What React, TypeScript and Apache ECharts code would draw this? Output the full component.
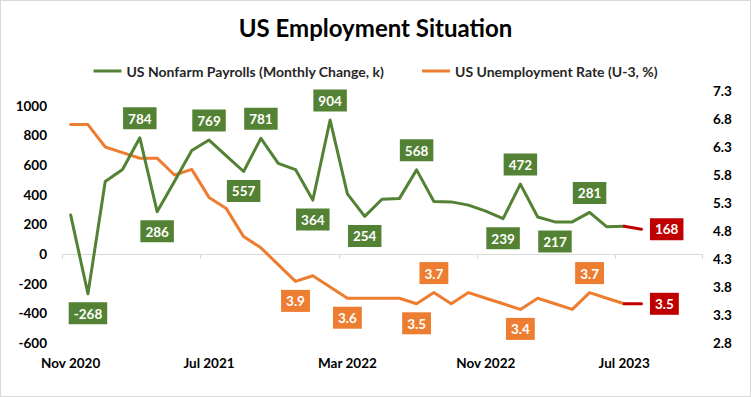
import { useEffect, useRef } from 'react';
import * as echarts from 'echarts';

const categories = [
  'Nov 2020', 'Dec 2020', 'Jan 2021', 'Feb 2021', 'Mar 2021', 'Apr 2021', 'May 2021', 'Jun 2021',
  'Jul 2021', 'Aug 2021', 'Sep 2021', 'Oct 2021', 'Nov 2021', 'Dec 2021', 'Jan 2022', 'Feb 2022',
  'Mar 2022', 'Apr 2022', 'May 2022', 'Jun 2022', 'Jul 2022', 'Aug 2022', 'Sep 2022', 'Oct 2022',
  'Nov 2022', 'Dec 2022', 'Jan 2023', 'Feb 2023', 'Mar 2023', 'Apr 2023', 'May 2023', 'Jun 2023',
  'Jul 2023', 'Aug 2023', 'Sep 2023', 'Oct 2023', 'Nov 2023',
];

const payrolls = [
  264, -268, 490, 570, 784, 286, 490, 698, 769, 662, 557, 781, 612, 570, 364, 904, 406, 254,
  370, 374, 568, 354, 352, 330, 290, 239, 472, 250, 217, 217, 281, 184, 187, 168,
];

const unemployment = [
  6.7, 6.7, 6.3, 6.2, 6.1, 6.1, 5.8, 5.9, 5.4, 5.2, 4.7, 4.5, 4.2, 3.9, 4.0, 3.8, 3.6, 3.6,
  3.6, 3.6, 3.5, 3.7, 3.5, 3.7, 3.6, 3.5, 3.4, 3.6, 3.5, 3.4, 3.7, 3.6, 3.5, 3.5,
];

const payrollLabelsAbove = [4, 8, 11, 15, 20, 26, 30];
const payrollLabelsBelow = [1, 5, 10, 14, 17, 25, 28];
const rateLabelsAbove = [21, 30];
const rateLabelsBelow = [13, 16, 20, 26];

const leftTicks = { min: -600, max: 1100, interval: 200 };
const rightTicks = { min: 2.8, max: 7.3, interval: 0.5 };

const GREEN = '#548235';
const ORANGE = '#ED7D31';
const RED = '#C00000';
const FONT = 'Lato';

const labelBox = (bg: string, position: string, fmt: (v: number) => string) => ({
  show: true,
  position,
  distance: 8,
  backgroundColor: bg,
  color: '#ffffff',
  fontFamily: FONT,
  fontWeight: 'bold',
  fontSize: 13.5,
  lineHeight: 15,
  padding: [4, 5, 3, 5],
  formatter: (p: any) => fmt(p.value),
});

export default function App() {
  const ref = useRef<HTMLDivElement>(null);

  useEffect(() => {
    if (!ref.current) return;
    const chart = echarts.init(ref.current, undefined, { renderer: 'svg' });

    const lastIdx = payrolls.length - 1;
    const fmtK = (v: number) => String(v);
    const fmtR = (v: number) => Number(v).toFixed(1);

    const greenData = payrolls.slice(0, lastIdx).map((v, i) => {
      const pos = payrollLabelsAbove.includes(i) ? 'top' : payrollLabelsBelow.includes(i) ? 'bottom' : null;
      return pos ? { value: v, label: labelBox(GREEN, pos, fmtK) } : { value: v };
    });
    const orangeData = unemployment.slice(0, lastIdx).map((v, i) => {
      const pos = rateLabelsAbove.includes(i) ? 'top' : rateLabelsBelow.includes(i) ? 'bottom' : null;
      return pos ? { value: v, label: labelBox(ORANGE, pos, fmtR) } : { value: v };
    });
    const redPay = categories.map((_, i) =>
      i === lastIdx ? { value: payrolls[i], label: labelBox(RED, 'right', fmtK) } : i === lastIdx - 1 ? { value: payrolls[i] } : null
    );
    const redRate = categories.map((_, i) =>
      i === lastIdx ? { value: unemployment[i], label: labelBox(RED, 'right', fmtR) } : i === lastIdx - 1 ? { value: unemployment[i] } : null
    );

    const lineCommon = {
      type: 'line',
      symbol: 'circle',
      symbolSize: 1,
      showSymbol: true,
      connectNulls: false,
      label: { show: false },
    };

    chart.setOption({
      animation: false,
      backgroundColor: '#ffffff',
      title: {
        text: 'US Employment Situation',
        left: 'center',
        top: 10,
        textStyle: { fontFamily: FONT, fontWeight: 'bold', fontSize: 24, color: '#000000' },
      },
      legend: {
        data: ['US Nonfarm Payrolls (Monthly Change, k)', 'US Unemployment Rate (U-3, %)'],
        left: 'center',
        top: 59,
        icon: 'rect',
        itemWidth: 28,
        itemHeight: 3,
        itemGap: 38,
        textStyle: { fontFamily: FONT, fontSize: 14, fontWeight: 'bold', color: '#262626' },
      },
      grid: { left: 62, right: 49, top: 91, bottom: 54, containLabel: false },
      xAxis: {
        type: 'category',
        data: categories,
        boundaryGap: true,
        axisLine: { show: true, lineStyle: { color: '#d9d9d9', width: 1 } },
        axisTick: { show: true, interval: 7, length: 5, lineStyle: { color: '#d9d9d9' } },
        axisLabel: {
          interval: 7,
          margin: 13,
          fontFamily: FONT,
          fontWeight: 'bold',
          fontSize: 13.5,
          color: '#000000',
        },
        splitLine: { show: false },
      },
      yAxis: [
        {
          type: 'value',
          min: leftTicks.min,
          max: leftTicks.max,
          interval: leftTicks.interval,
          axisLine: { show: false },
          axisTick: { show: false },
          splitLine: { show: false },
          axisLabel: {
            margin: 15,
            showMaxLabel: false,
            fontFamily: FONT,
            fontWeight: 'bold',
            fontSize: 13.5,
            color: '#000000',
            formatter: (v: number) => (v > 1000 ? '' : String(v)),
          },
        },
        {
          type: 'value',
          min: rightTicks.min,
          max: rightTicks.max,
          interval: rightTicks.interval,
          axisLine: { show: false },
          axisTick: { show: false },
          splitLine: { show: false },
          axisLabel: {
            margin: 11,
            fontFamily: FONT,
            fontWeight: 'bold',
            fontSize: 13.5,
            color: '#000000',
            formatter: (v: number) => v.toFixed(1),
          },
        },
      ],
      series: [
        {
          ...lineCommon,
          name: 'US Nonfarm Payrolls (Monthly Change, k)',
          yAxisIndex: 0,
          data: greenData,
          color: GREEN,
          itemStyle: { color: GREEN },
          lineStyle: { color: GREEN, width: 3, cap: 'round', join: 'round' },
          z: 3,
        },
        {
          ...lineCommon,
          name: 'US Unemployment Rate (U-3, %)',
          yAxisIndex: 1,
          data: orangeData,
          color: ORANGE,
          itemStyle: { color: ORANGE },
          lineStyle: { color: ORANGE, width: 3, cap: 'round', join: 'round' },
          z: 2,
        },
        {
          ...lineCommon,
          name: 'Latest payrolls',
          yAxisIndex: 0,
          data: redPay,
          color: RED,
          itemStyle: { color: RED },
          lineStyle: { color: RED, width: 3, cap: 'round', join: 'round' },
          z: 4,
        },
        {
          ...lineCommon,
          name: 'Latest rate',
          yAxisIndex: 1,
          data: redRate,
          color: RED,
          itemStyle: { color: RED },
          lineStyle: { color: RED, width: 3, cap: 'round', join: 'round' },
          z: 4,
        },
      ],
    });

    return () => chart.dispose();
  }, []);

  return (
    <div style={{ position: 'fixed', left: 0, top: 0, width: 751, height: 397, background: '#fff' }}>
      <div ref={ref} style={{ width: 751, height: 397 }} />
      <div
        style={{
          position: 'absolute',
          left: 0,
          top: 0,
          width: 751,
          height: 397,
          boxSizing: 'border-box',
          border: '1px solid #d9d9d9',
          pointerEvents: 'none',
        }}
      />
    </div>
  );
}
